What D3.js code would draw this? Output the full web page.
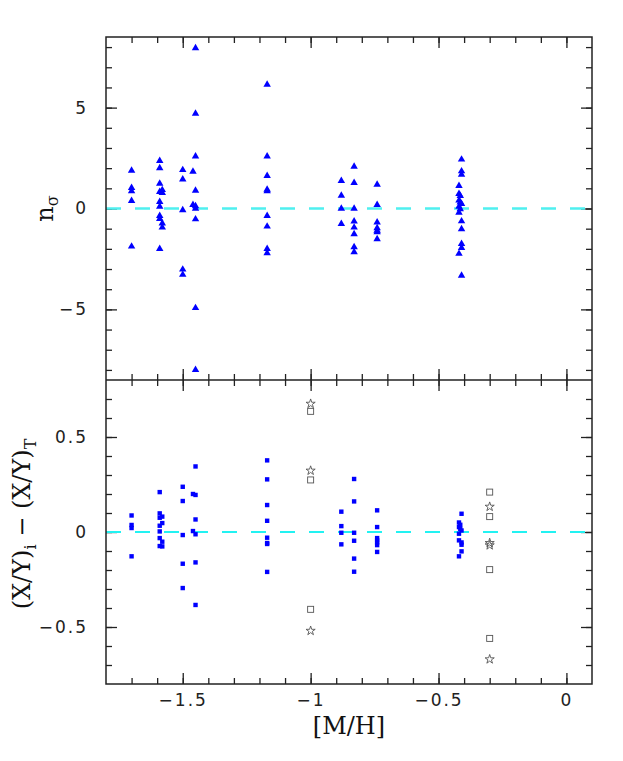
<!DOCTYPE html>
<html>
<head>
<meta charset="utf-8">
<script src="https://cdn.jsdelivr.net/npm/d3@7"></script>
<style>
  body { margin: 0; background: #fff; }
  .tick text { font-family: "DejaVu Sans", sans-serif; font-size: 17px; letter-spacing: 2px; fill: #222; }
  .tick line { stroke: #222; stroke-width: 1.3; }
  .lab { font-family: "DejaVu Serif", serif; font-size: 24px; fill: #111; }
</style>
</head>
<body>
<div id="chart"></div>
<script>
// [M/H] column -> n_sigma values (top panel)
var nsigma = [
    { m: -1.70, v: [1.88, 1.02, 0.86, 0.38, -1.88] },
    { m: -1.59, v: [2.36, 2.0, 1.24, 0.83, 0.33, 0.1, -0.36, -0.51, -2.0] },
    { m: -1.58, v: [0.92, 0.78, -0.73, -0.94] },
    { m: -1.50, v: [1.91, 1.45, -0.08, -3.02, -3.28] },
    { m: -1.46, v: [1.83, 0.18] },
    { m: -1.45, v: [7.95, 4.70, 2.59, 0.89, 0.12, 0.0, -0.53, -4.93, -8.0] },
    { m: -1.17, v: [6.14, 2.59, 1.62, 0.94, 0.86, -0.36, -0.89, -2.0, -2.21] },
    { m: -0.88, v: [1.37, 0.64, 0, -0.76] },
    { m: -0.83, v: [2.08, 1.27, 0, -0.64, -0.94, -1.27, -1.91, -2.16] },
    { m: -0.74, v: [1.19, 0.18, -0.69, -0.97, -1.09, -1.17, -1.52] },
    { m: -0.41, v: [2.43, 1.85, 1.68, 0.23, -0.63, -1.02, -1.75, -1.95, -3.32] },
    { m: -0.42, v: [1.12, 0.73, 0.40, 0.1, -0.2, -2.24] },
    { m: -0.415, v: [0.63, 0.31, -0.03] }
];

// (X/Y)_i - (X/Y)_T, filled squares (bottom panel)
var diffs = [
    { m: -1.70, v: [0.087, 0.037, 0.021, -0.128] },
    { m: -1.59, v: [0.21, 0.098, 0.075, 0.033, 0.003, -0.032, -0.074] },
    { m: -1.58, v: [0.081, 0.047, -0.051, -0.076] },
    { m: -1.50, v: [0.238, 0.163, -0.016, -0.167, -0.295] },
    { m: -1.46, v: [0.20, 0.005] },
    { m: -1.45, v: [0.345, 0.195, 0.066, -0.012, -0.16, -0.384] },
    { m: -1.17, v: [0.377, 0.277, 0.142, 0.059, -0.030, -0.058, -0.063, -0.21] },
    { m: -0.88, v: [0.107, 0.031, -0.004, -0.065] },
    { m: -0.83, v: [0.279, 0.161, -0.004, -0.046, -0.14, -0.209] },
    { m: -0.74, v: [0.114, 0.026, -0.032, -0.044, -0.055, -0.069, -0.105] },
    { m: -0.41, v: [0.096, 0.008, -0.055, -0.067, -0.102] },
    { m: -0.42, v: [0.05, 0.026, -0.009, -0.044, -0.128] },
    { m: -0.415, v: [0.038, 0.016] }
];

// open squares and open stars
var openSquares = [
    { m: -1.0, v: [0.635, 0.274, -0.407] },
    { m: -0.3, v: [0.21, 0.081, -0.198, -0.56] }
];
var openStars = [
    { m: -1.0, v: [0.675, 0.323, -0.52] },
    { m: -0.3, v: [0.133, -0.058, -0.07, -0.67] }
];

var xTicks = [-1.5, -1, -0.5, 0];
var topTicks = [-5, 0, 5];
var botTicks = [-0.5, 0, 0.5];

function flat(cols) {
    var out = [];
    cols.forEach(function(c) {
        c.v.forEach(function(v) { out.push({ m: c.m, v: v }); });
    });
    return out;
}

var W = 623, H = 761;
var L = 106, R = 592, T = 37, M = 380, B = 684;

var x = d3.scaleLinear().domain([-1.8, 0.1]).range([L, R]);
var yTop = d3.scaleLinear().domain([-8.5, 8.5]).range([M, T]);
var yBot = d3.scaleLinear().domain([-0.8, 0.8]).range([B, M]);

var svg = d3.select('#chart').append('svg')
    .attr('width', W).attr('height', H);

var xMinor = d3.range(-17, 1).map(function(i) { return i / 10; });
var topMinor = d3.range(-8, 9);
var botMinor = d3.range(-7, 8).map(function(i) { return i / 10; });

var fx = function(d) { return d3.format('')(d); };
var none = function() { return ''; };

function xAx(y, dir, labels) {
    // dir 1 = ticks go down, -1 = up
    var g1 = d3.axisBottom(x).tickValues(xMinor).tickSize(6 * dir).tickFormat(none);
    var g2 = d3.axisBottom(x).tickValues(xTicks).tickSize(11 * dir)
        .tickFormat(labels ? fx : none);
    var a = svg.append('g').attr('transform', 'translate(0,' + y + ')').call(g1);
    a.select('.domain').remove();
    var b = svg.append('g').attr('transform', 'translate(0,' + y + ')').call(g2);
    b.select('.domain').remove();
    if (labels) b.selectAll('text').attr('dy', '0.71em').attr('y', 10);
}

xAx(T, 1, false);
xAx(M, -1, false);
xAx(M, 1, false);
xAx(B, -1, true);

function yAx(scale, minor, major, fmt) {
    var a1 = d3.axisLeft(scale).tickValues(minor).tickSize(-6).tickFormat(none);
    var a2 = d3.axisLeft(scale).tickValues(major).tickSize(-11).tickPadding(18).tickFormat(fmt);
    var b1 = d3.axisRight(scale).tickValues(minor).tickSize(-6).tickFormat(none);
    var b2 = d3.axisRight(scale).tickValues(major).tickSize(-11).tickFormat(none);
    [[a1, L], [a2, L], [b1, R], [b2, R]].forEach(function(p) {
        var g = svg.append('g').attr('transform', 'translate(' + p[1] + ',0)').call(p[0]);
        g.select('.domain').remove();
    });
}
yAx(yTop, topMinor, topTicks, fx);
yAx(yBot, botMinor, botTicks, fx);

// dashed zero lines
svg.append('line')
    .attr('x1', L).attr('x2', R).attr('y1', yTop(0)).attr('y2', yTop(0))
    .attr('stroke', '#4ff0f0').attr('stroke-width', 2.6).attr('stroke-dasharray', '15,14');
svg.append('line')
    .attr('x1', L).attr('x2', R).attr('y1', yBot(0)).attr('y2', yBot(0))
    .attr('stroke', '#22f2f2').attr('stroke-width', 2).attr('stroke-dasharray', '15,14');

// markers
svg.append('g').selectAll('path')
    .data(flat(nsigma)).enter().append('path')
    .attr('d', d3.symbol().type(d3.symbolTriangle).size(24))
    .attr('transform', function(d) { return 'translate(' + x(d.m) + ',' + yTop(d.v) + ')'; })
    .attr('fill', '#0000ff');

svg.append('g').selectAll('rect')
    .data(flat(diffs)).enter().append('rect')
    .attr('x', function(d) { return x(d.m) - 2.2; })
    .attr('y', function(d) { return yBot(d.v) - 2.2; })
    .attr('width', 4.4).attr('height', 4.4)
    .attr('fill', '#0000ff');

svg.append('g').selectAll('rect')
    .data(flat(openSquares)).enter().append('rect')
    .attr('x', function(d) { return x(d.m) - 3; })
    .attr('y', function(d) { return yBot(d.v) - 3; })
    .attr('width', 6).attr('height', 6)
    .attr('fill', 'none').attr('stroke', '#555').attr('stroke-width', 0.9);

svg.append('g').selectAll('path')
    .data(flat(openStars)).enter().append('path')
    .attr('d', d3.symbol().type(d3.symbolStar).size(26))
    .attr('transform', function(d) { return 'translate(' + x(d.m) + ',' + yBot(d.v) + ')'; })
    .attr('fill', 'none').attr('stroke', '#555').attr('stroke-width', 0.9);

// frames
svg.append('rect').attr('x', L).attr('y', T).attr('width', R - L).attr('height', B - T)
    .attr('fill', 'none').attr('stroke', '#222').attr('stroke-width', 1.5);
svg.append('line').attr('x1', L).attr('x2', R).attr('y1', M).attr('y2', M)
    .attr('stroke', '#222').attr('stroke-width', 1.5);

// axis labels
svg.append('text').attr('class', 'lab')
    .attr('text-anchor', 'middle')
    .attr('x', (L + R) / 2).attr('y', 734)
    .text('[M/H]');

svg.append('text').attr('class', 'lab')
    .attr('text-anchor', 'middle')
    .attr('transform', 'translate(53,' + yTop(0) + ') rotate(-90)')
    .html('n<tspan dy="5" font-size="16">σ</tspan>');

svg.append('text').attr('class', 'lab')
    .attr('text-anchor', 'middle')
    .attr('transform', 'translate(30,' + (yBot(0) - 8) + ') rotate(-90)')
    .html('(X/Y)<tspan dy="6" font-size="16">i</tspan><tspan dy="-6"> − (X/Y)</tspan><tspan dy="6" font-size="16">T</tspan>');
</script>
</body>
</html>
